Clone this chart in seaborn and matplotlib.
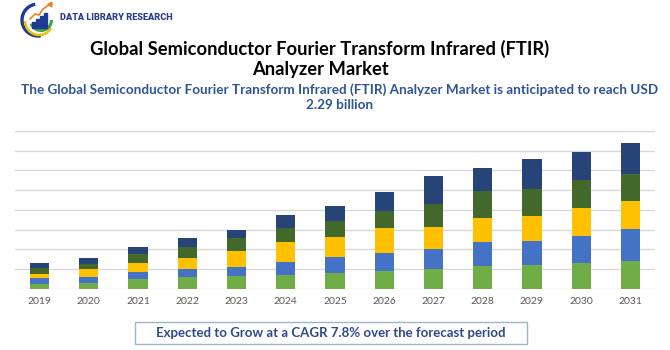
import matplotlib
matplotlib.use("Agg")
import matplotlib.pyplot as plt
import matplotlib.patches as mpatches
import numpy as np
import pandas as pd
import seaborn as sns

years = ["2019", "2020", "2021", "2022", "2023", "2024", "2025",
         "2026", "2027", "2028", "2029", "2030", "2031"]
seg1 = [0.25, 0.30, 0.51, 0.58, 0.66, 0.68, 0.80, 0.88, 1.00, 1.17, 1.20, 1.30, 1.41]
seg2 = [0.29, 0.29, 0.36, 0.41, 0.44, 0.69, 0.80, 0.94, 1.00, 1.20, 1.23, 1.39, 1.61]
seg3 = [0.20, 0.39, 0.41, 0.59, 0.80, 0.99, 1.02, 1.24, 1.12, 1.20, 1.24, 1.41, 1.42]
seg4 = [0.32, 0.27, 0.49, 0.56, 0.67, 0.74, 0.79, 0.88, 1.18, 1.39, 1.39, 1.42, 1.39]
seg5 = [0.27, 0.29, 0.34, 0.43, 0.42, 0.65, 0.78, 0.97, 1.42, 1.18, 1.54, 1.41, 1.57]
colors = ["#70AD47", "#4472C4", "#FFC000", "#43682B", "#264478"]

title = "Global Semiconductor Fourier Transform Infrared (FTIR)\nAnalyzer Market"
subtitle = ("The Global Semiconductor Fourier Transform Infrared (FTIR) Analyzer Market is anticipated to reach USD\n"
            "2.29 billion")
footer = "Expected to Grow at a CAGR 7.8% over the forecast period"
brand = "DATA LIBRARY RESEARCH"

sns.set_theme(style="white")
plt.rcParams["font.family"] = ["Lato", "DejaVu Sans"]

fig = plt.figure(figsize=(6.7, 3.5), dpi=100)
ax = fig.add_axes([0.0224, 0.175, 0.9552, 0.451])

segs = [seg1, seg2, seg3, seg4, seg5]
cum = np.cumsum(np.array(segs), axis=0)
df = pd.DataFrame({"year": years})
for i in range(5):
    df[f"c{i}"] = cum[i]

for i in range(4, -1, -1):
    sns.barplot(data=df, x="year", y=f"c{i}", color=colors[i], width=0.39,
                saturation=1, ax=ax, linewidth=0, zorder=3)

ax.set_ylim(0, 8)
ax.set_xlim(-0.5, 12.5)
ax.set_yticks(np.arange(0, 9, 1))
ax.yaxis.grid(True, color="#D9D9D9", linewidth=1, zorder=0)
ax.set_yticklabels([])
ax.tick_params(axis="y", length=0)
ax.tick_params(axis="x", length=0, labelsize=7.5, labelcolor="#595959", pad=6)
ax.set_xlabel("")
ax.set_ylabel("")
for s in ax.spines.values():
    s.set_visible(False)

fig.text(320 / 670, 1 - 59 / 350, title, ha="center", va="center", fontsize=13.2,
         fontweight="bold", color="black", linespacing=1.25)
fig.text(340 / 670, 1 - 97 / 350, subtitle, ha="center", va="center", fontsize=9.75,
         fontweight="bold", color="#2F5597", linespacing=1.35)

# footer box
box = mpatches.Rectangle((135 / 670, 1 - 344 / 350), (527 - 135) / 670, (344 - 321.7) / 350,
                         transform=fig.transFigure, fill=False, edgecolor="#9DB3CF", linewidth=1)
fig.patches.append(box)
fig.text(331 / 670, 1 - 333 / 350, footer, ha="center", va="center", fontsize=9.55,
         fontweight="bold", color="#2E4A8B")

# logo
lax = fig.add_axes([18 / 670, 1 - 38 / 350, 42 / 670, 38 / 350])
lax.set_xlim(0, 42)
lax.set_ylim(0, 38)
lax.set_aspect("equal")
lax.axis("off")
lax.add_patch(mpatches.Arc((20, 18), 32, 32, theta1=100, theta2=280, color="#1F3A93", linewidth=2.4))
lax.add_patch(mpatches.Arc((21, 17), 28, 28, theta1=180, theta2=330, color="#F2C200", linewidth=1.8))
lax.add_patch(mpatches.Arc((23, 18), 21, 21, theta1=200, theta2=360, color="#3FA34D", linewidth=2.2))
for bx, bh in zip([14, 18, 22, 26], [6, 9, 12, 15]):
    lax.add_patch(mpatches.Rectangle((bx, 10), 2.6, bh, color="#1F3A93"))
lax.plot([12, 17, 21, 25, 32], [19, 24, 23, 29, 34], color="#F07F1E", linewidth=1.2)
lax.plot([32], [34], marker=(3, 0, -30), color="#F07F1E", markersize=4)

fig.text(60 / 670, 1 - 18 / 350, brand, ha="left", va="center", fontsize=6.6,
         fontweight="heavy", color="#2A3F8F", family=["Roboto", "DejaVu Sans"])

fig.savefig("out.png", dpi=100)
